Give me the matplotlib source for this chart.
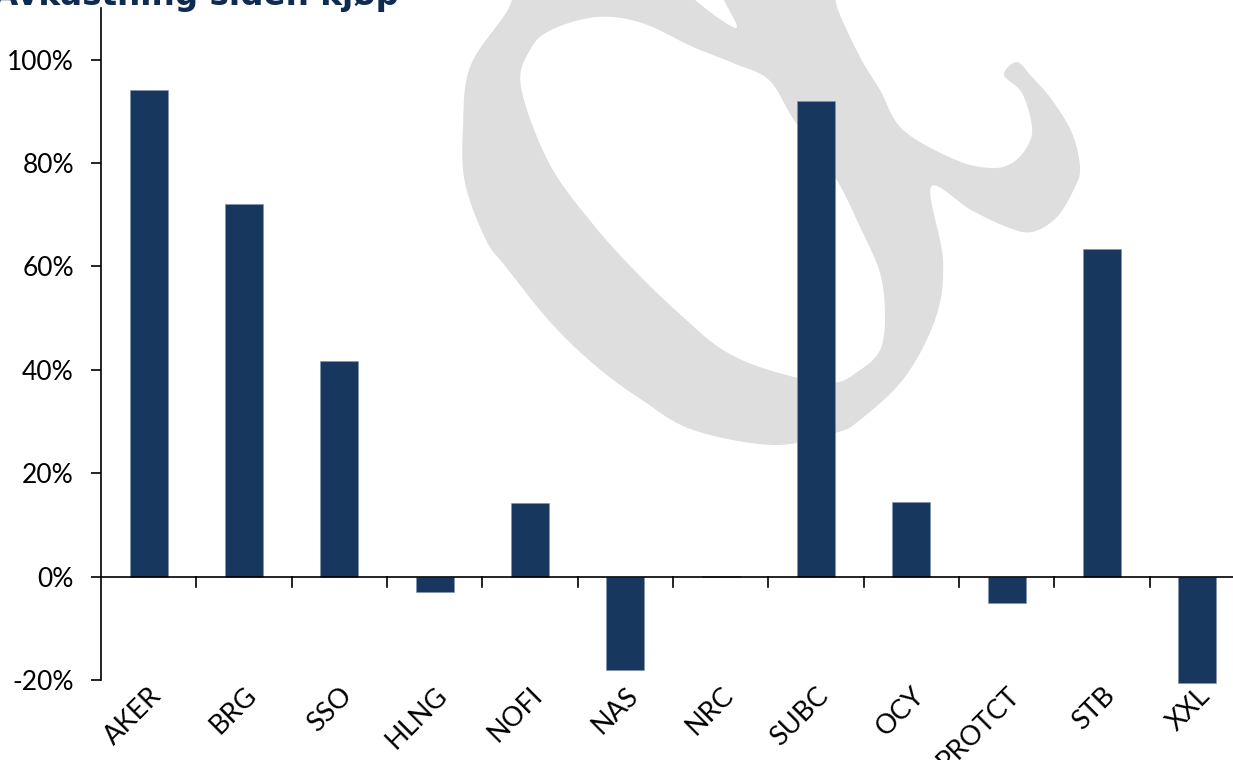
import matplotlib
matplotlib.use('Agg')
import matplotlib.pyplot as plt
from matplotlib.ticker import FuncFormatter, MultipleLocator
import numpy as np

# Data (return since purchase, %)
tickers = ['AKER', 'BRG', 'SSO', 'HLNG', 'NOFI', 'NAS', 'NRC', 'SUBC', 'OCY', 'PROTCT', 'STB', 'XXL']
returns = [94.1, 72.0, 41.7, -2.9, 14.2, -18.0, 0.2, 92.1, 14.5, -5.2, 63.4, -20.5]

navy = '#17375e'
plt.rcParams['font.family'] = ['Lato', 'DejaVu Sans']

# outline of the grey alpha logo behind the chart (pixel coords, y down)
logo_outer = [(540, -40), (506, 13), (470, 67), (463, 127), (465, 183), (486, 240), (506, 267),
              (551, 323), (597, 367), (642, 400), (693, 430), (774, 445), (835, 433), (860, 420),
              (905, 377), (936, 317), (943, 260), (931, 187), (971, 210), (1007, 227), (1032, 232),
              (1057, 217), (1075, 187), (1080, 167), (1072, 133), (1052, 100), (1032, 77),
              (1017, 62), (1004, 75), (1022, 93), (1032, 127), (1027, 147), (1012, 163),
              (991, 168), (956, 160), (903, 130), (880, 90), (860, 57), (838, 10), (820, -40),
              (716, -40), (722, -5), (736, 28), (690, -5), (670, -40)]
logo_hole = [(597, 17), (642, 23), (693, 47), (733, 63), (769, 80), (794, 120), (835, 177),
             (860, 227), (880, 273), (885, 317), (880, 350), (860, 370), (830, 383), (769, 370),
             (723, 350), (683, 317), (637, 273), (592, 223), (549, 163), (521, 87), (530, 50),
             (551, 30)]


def smooth(pts, n=12):
    # closed Catmull-Rom curve through the outline points
    p = np.array(pts, dtype=float)
    out = []
    m = len(p)
    for i in range(m):
        p0, p1, p2, p3 = p[i - 1], p[i], p[(i + 1) % m], p[(i + 2) % m]
        for t in np.linspace(0, 1, n, endpoint=False):
            t2, t3 = t * t, t * t * t
            out.append(0.5 * ((2 * p1) + (-p0 + p2) * t + (2 * p0 - 5 * p1 + 4 * p2 - p3) * t2
                              + (-p0 + 3 * p1 - 3 * p2 + p3) * t3))
    return np.array(out)


fig = plt.figure(figsize=(12.33, 7.6), dpi=100)

bg = fig.add_axes([0, 0, 1, 1], zorder=0)
bg.set_xlim(0, 1233)
bg.set_ylim(760, 0)
bg.axis('off')
o = smooth(logo_outer)
h = smooth(logo_hole)
bg.fill(o[:, 0], o[:, 1], color='#dedede', lw=0)
bg.fill(h[:, 0], h[:, 1], color='white', lw=0)

ax = fig.add_axes([101 / 1233, 1 - 680 / 760, 1144 / 1233, 672 / 760], zorder=1)
ax.set_facecolor('none')

x = np.arange(len(tickers))
ax.bar(x, returns, width=0.40, color=navy, edgecolor='#7f93ad', linewidth=0.4,
       clip_on=False, zorder=3)

ax.set_xlim(-0.5, len(tickers) - 0.5)
ax.set_ylim(-20, 110)
ax.yaxis.set_major_locator(MultipleLocator(20))
ax.yaxis.set_major_formatter(FuncFormatter(lambda v, p: f'{v:.0f}%' if v <= 100 else ''))
ax.tick_params(axis='y', length=7, width=1.2, labelsize=19, pad=12.5, colors='black')

for s in ['top', 'right', 'bottom']:
    ax.spines[s].set_visible(False)
ax.spines['left'].set_linewidth(1.2)
ax.axhline(0, color='black', linewidth=1.2, zorder=4, clip_on=False)

# category boundary ticks below the zero line
for b in np.arange(0.5, len(tickers) - 0.5, 1.0):
    ax.plot([b, b], [0, -2.0], color='black', linewidth=1.2, zorder=4)

ax.set_xticks(x)
ax.set_xticklabels(tickers, rotation=45, ha='right', va='top', rotation_mode='anchor', fontsize=19.5)
ax.tick_params(axis='x', length=0, pad=2)

fig.text(-0.006, 1 - 5 / 760, 'Avkastning siden kjøp', fontsize=23.5, fontweight='bold',
         color='#0f2b52', ha='left', va='baseline', family='DejaVu Sans')

fig.savefig('out.png', dpi=100)
